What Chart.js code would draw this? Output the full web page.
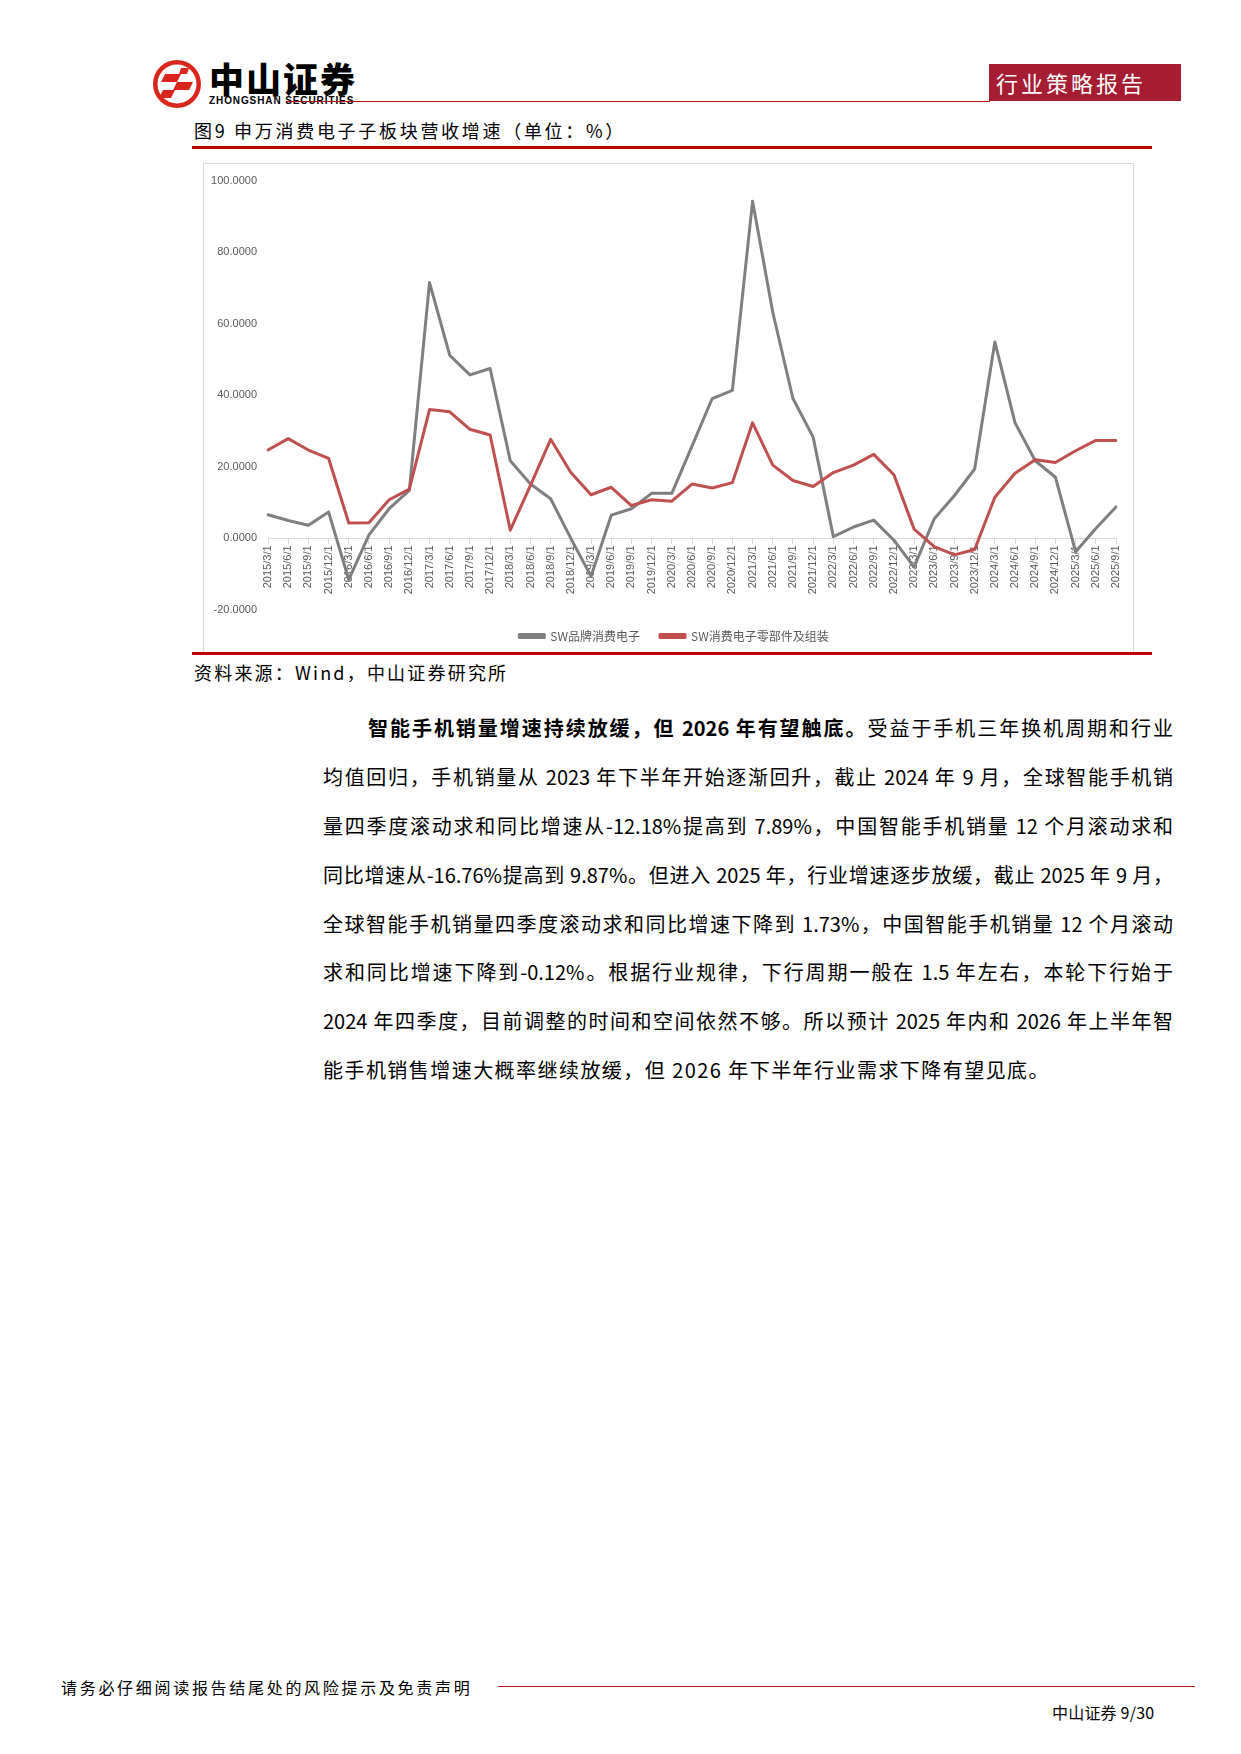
<!DOCTYPE html>
<html lang="zh-CN">
<head>
  <meta charset="UTF-8" />
  <title>申万消费电子子板块营收增速</title>
  <style>
    body {
      margin: 0;
      padding: 0;
      background: #fff;
      font-family: "Noto Sans CJK SC", "Noto Sans", sans-serif;
      color: #000;
    }
    .page {
      position: relative;
      width: 1241px;
      height: 1754px;
      background: #fff;
      overflow: hidden;
    }
    .abs { position: absolute; }
    .brand-cn {
      left: 209px; top: 58px;
      font-size: 35px; font-weight: 900; letter-spacing: 2px;
      line-height: 40px;
    }
    .brand-en {
      left: 209px; top: 95px;
      font-family: "Liberation Sans", Arial, sans-serif;
      font-size: 10px; font-weight: bold; letter-spacing: 0.9px;
      line-height: 12px;
    }
    .head-line { left: 286px; top: 101px; width: 704px; height: 1px; background: #b5121b; }
    .tag {
      left: 989px; top: 64px; width: 192px; height: 37px;
      background: #a61c30; color: #fff;
      font-size: 22px; line-height: 37px; letter-spacing: 3px;
      text-indent: 7px;
    }
    .caption {
      left: 194px; top: 118px;
      font-size: 18px; line-height: 24px; letter-spacing: 2.7px;
    }
    .red-rule { left: 192px; width: 960px; height: 3px; background: #c00000; }
    .chart-box {
      left: 203px; top: 163px; width: 929px; height: 489px;
      border: 1px solid #d9d9d9; border-bottom: none;
    }
    #chart { position: absolute; left: 203px; top: 163px; }
    .source {
      left: 194px; top: 660px;
      font-size: 18px; line-height: 24px; letter-spacing: 2.2px;
    }
    .para { left: 323px; width: 850px; font-size: 20px; }
    .para div {
      height: 48.9px; line-height: 48.9px;
      text-align: justify; text-align-last: justify;
      white-space: nowrap;
    }
    .para div.last { text-align-last: left; letter-spacing: 1.45px; }
    .para div.first { padding-left: 45px; }
    .foot-text {
      left: 61px; top: 1675px;
      font-size: 16px; line-height: 24px; letter-spacing: 2.7px;
    }
    .foot-line { left: 498px; top: 1686px; width: 697px; height: 1px; background: #b5121b; }
    .page-no {
      left: 1052px; top: 1700px;
      font-size: 16px; line-height: 24px; letter-spacing: 0.2px;
    }
  </style>
  <script src="https://cdn.jsdelivr.net/npm/chart.js"></script>
</head>
<body>
<div class="page">
  <!-- header -->
  <svg class="abs" style="left:151px;top:58px" width="52" height="52" viewBox="0 0 52 52">
    <circle cx="26" cy="26" r="24" fill="#d9261c" />
    <circle cx="26" cy="26" r="19.5" fill="#fff" />
    <polygon points="14,16 30,16 26,24 10,24" fill="#d9261c" />
    <polygon points="26,24 42,24 38,32 22,32" fill="#d9261c" />
    <polygon points="12,32 24,32 20,40 8,40" fill="#d9261c" />
    <polygon points="30,10 38,10 36,16 28,16" fill="#d9261c" />
  </svg>
  <div class="abs brand-cn">中山证券</div>
  <div class="abs brand-en">ZHONGSHAN SECURITIES</div>
  <div class="abs head-line"></div>
  <div class="abs tag">行业策略报告</div>

  <div class="abs caption">图9 申万消费电子子板块营收增速（单位：%）</div>
  <div class="abs red-rule" style="top:146px"></div>

  <div class="abs chart-box"></div>
  <canvas id="chart" width="930" height="489"></canvas>
  <div class="abs red-rule" style="top:652px"></div>

  <div class="abs source">资料来源：Wind，中山证券研究所</div>

  <div class="abs para" style="top:704px">
    <div class="first"><b>智能手机销量增速持续放缓，但 2026 年有望触底。</b>受益于手机三年换机周期和行业</div>
    <div>均值回归，手机销量从 2023 年下半年开始逐渐回升，截止 2024 年 9 月，全球智能手机销</div>
    <div>量四季度滚动求和同比增速从-12.18%提高到 7.89%，中国智能手机销量 12 个月滚动求和</div>
    <div>同比增速从-16.76%提高到 9.87%。但进入 2025 年，行业增速逐步放缓，截止 2025 年 9 月，</div>
    <div>全球智能手机销量四季度滚动求和同比增速下降到 1.73%，中国智能手机销量 12 个月滚动</div>
    <div>求和同比增速下降到-0.12%。根据行业规律，下行周期一般在 1.5 年左右，本轮下行始于</div>
    <div>2024 年四季度，目前调整的时间和空间依然不够。所以预计 2025 年内和 2026 年上半年智</div>
    <div class="last">能手机销售增速大概率继续放缓，但 2026 年下半年行业需求下降有望见底。</div>
  </div>

  <!-- footer -->
  <div class="abs foot-text">请务必仔细阅读报告结尾处的风险提示及免责声明</div>
  <div class="abs foot-line"></div>
  <div class="abs page-no">中山证券 9/30</div>
</div>

<script>
  // quarterly dates, 2015Q1 .. 2025Q3
  const quarters = [
    '2015/3/1', '2015/6/1', '2015/9/1', '2015/12/1',
    '2016/3/1', '2016/6/1', '2016/9/1', '2016/12/1',
    '2017/3/1', '2017/6/1', '2017/9/1', '2017/12/1',
    '2018/3/1', '2018/6/1', '2018/9/1', '2018/12/1',
    '2019/3/1', '2019/6/1', '2019/9/1', '2019/12/1',
    '2020/3/1', '2020/6/1', '2020/9/1', '2020/12/1',
    '2021/3/1', '2021/6/1', '2021/9/1', '2021/12/1',
    '2022/3/1', '2022/6/1', '2022/9/1', '2022/12/1',
    '2023/3/1', '2023/6/1', '2023/9/1', '2023/12/1',
    '2024/3/1', '2024/6/1', '2024/9/1', '2024/12/1',
    '2025/3/1', '2025/6/1', '2025/9/1'
  ];

  // SW品牌消费电子 revenue growth (%)
  const brandGrowth = [
    6.6, 5.0, 3.7, 7.4, -11.5, 1.0, 8.3, 13.4, 71.5, 51.2,
    45.7, 47.5, 21.7, 15.2, 11.1, 0.0, -10.6, 6.5, 8.3, 12.6,
    12.6, 25.8, 39.1, 41.4, 94.2, 63.2, 39.1, 28.3, 0.5, 3.2,
    5.1, -0.5, -8.0, 5.5, 12.0, 19.4, 54.9, 32.3, 21.7, 17.1,
    -3.7, 2.8, 8.8
  ];

  // SW消费电子零部件及组装 revenue growth (%)
  const partsGrowth = [
    24.7, 27.9, 24.7, 22.4, 4.3, 4.4, 10.8, 13.8, 36.0, 35.4,
    30.5, 28.9, 2.3, 14.8, 27.7, 18.4, 12.2, 14.3, 9.2, 10.8,
    10.4, 15.2, 14.1, 15.6, 32.3, 20.5, 16.2, 14.5, 18.4, 20.5,
    23.5, 17.8, 2.6, -2.3, -4.6, -3.1, 11.5, 18.2, 22.0, 21.2,
    24.5, 27.4, 27.4
  ];

  const seriesNames = ['SW品牌消费电子', 'SW消费电子零部件及组装'];
  const yTicks = [-20, 0, 20, 40, 60, 80, 100];

  const axisGrey = '#595959';
  const lineGrey = '#d9d9d9';

  // legend sits a bit right of the canvas centre in the original
  const legendNudge = {
    id: 'legendNudge',
    afterLayout(chart) {
      if (chart.legend) chart.legend.left += 29;
    }
  };

  const ctx = document.getElementById('chart').getContext('2d');
  new Chart(ctx, {
    type: 'line',
    data: {
      labels: quarters,
      datasets: [{
        label: seriesNames[0],
        data: brandGrowth,
        borderColor: '#7f7f7f',
        backgroundColor: '#7f7f7f',
        borderWidth: 3,
        pointRadius: 0,
        tension: 0,
        borderJoinStyle: 'round',
        borderCapStyle: 'round',
        order: 1
      }, {
        label: seriesNames[1],
        data: partsGrowth,
        borderColor: '#c0504d',
        backgroundColor: '#c0504d',
        borderWidth: 3,
        pointRadius: 0,
        tension: 0,
        borderJoinStyle: 'round',
        borderCapStyle: 'round',
        order: 0
      }]
    },
    plugins: [legendNudge],
    options: {
      responsive: false,
      animation: false,
      devicePixelRatio: 1,
      layout: { padding: { left: 0, right: 17, top: 10, bottom: 0 } },
      plugins: {
        tooltip: { enabled: false },
        legend: {
          position: 'bottom',
          labels: {
            boxWidth: 25,
            boxHeight: 3,
            padding: 20,
            color: axisGrey,
            font: { size: 12, family: '"Noto Sans CJK SC", sans-serif' },
            sort: (a, b) => a.datasetIndex - b.datasetIndex
          }
        }
      },
      scales: {
        x: {
          type: 'category',
          position: { y: 0 },
          offset: false,
          grid: { drawOnChartArea: false, color: lineGrey, tickLength: 5 },
          border: { color: lineGrey, width: 1 },
          ticks: {
            autoSkip: false,
            minRotation: 90,
            maxRotation: 90,
            padding: 2,
            color: axisGrey,
            font: { size: 11, family: '"Liberation Sans", Arial, sans-serif' }
          }
        },
        y: {
          min: yTicks[0],
          max: yTicks[yTicks.length - 1],
          afterBuildTicks: s => { s.ticks = yTicks.map(v => ({ value: v })); },
          afterFit: s => { s.width = 65; },
          grid: { display: false, drawTicks: false },
          border: { display: false },
          ticks: {
            padding: 11,
            color: axisGrey,
            font: { size: 11, family: '"Liberation Sans", Arial, sans-serif' },
            callback: v => Number(v).toFixed(4)
          }
        }
      }
    }
  });
</script>
</body>
</html>
